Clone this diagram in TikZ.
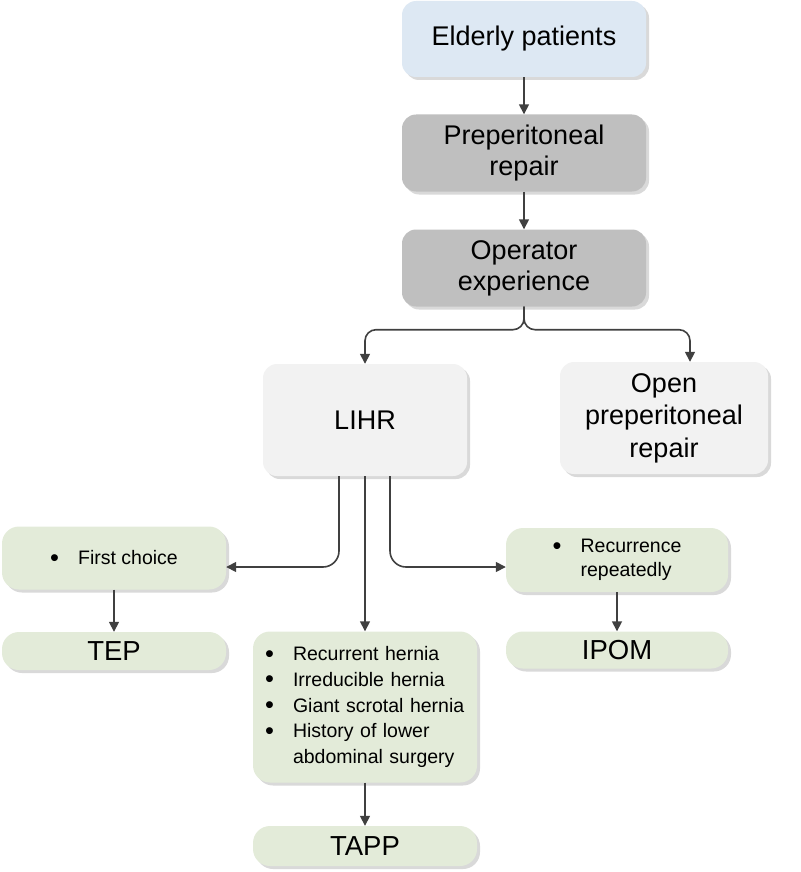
\documentclass[tikz,border=0pt]{standalone}
\usepackage{fontspec}
\setmainfont{Liberation Sans}
\usetikzlibrary{positioning, shapes, calc, arrows.meta, shadows}

\definecolor{bluebox}{HTML}{DDE8F3}
\definecolor{graybox}{HTML}{BFBFBF}
\definecolor{lightbox}{HTML}{F2F2F2}
\definecolor{greenbox}{HTML}{E3EBD9}
\definecolor{linecol}{HTML}{404040}

\newcommand{\bul}{\makebox[28pt][l]{\smash{\raisebox{-1.6pt}{\scalebox{1.3}{\textbullet}}}}}

\tikzset{
	box/.style={rectangle, rounded corners=14pt, draw=none, inner sep=0pt, align=center,
		font=\fontsize{27}{31}\selectfont,
		drop shadow={shadow xshift=3pt, shadow yshift=-3pt, opacity=0.3}},
	listbox/.style={box, fill=greenbox, rounded corners=17pt, font=\fontsize{19.5}{25.7}\selectfont},
	endbox/.style={box, fill=greenbox, rounded corners=17pt, minimum width=224pt, font=\fontsize{27.5}{30}\selectfont},
	arr/.style={draw=linecol, line width=1.6pt, -{Triangle[length=10pt, width=10pt]}}
}

\begin{document}
\begin{tikzpicture}[x=1pt, y=-1pt]
	\useasboundingbox (0,0) rectangle (800,872);
	
	%//top column
	\node [box, fill=bluebox, minimum width=244pt, minimum height=76pt] (elderly) at (524,39) {Elderly patients};
	\node [box, fill=graybox, minimum width=244pt, minimum height=77pt] (prep) at (524,153) {Preperitoneal\\repair};
	\node [box, fill=graybox, minimum width=244pt, minimum height=77pt] (oper) at (524,268) {Operator\\experience};
	
	%//second row
	\node [box, fill=lightbox, minimum width=204pt, minimum height=112pt] (lihr) at (365,420) {LIHR};
	\node [box, fill=lightbox, minimum width=208pt, minimum height=112pt, font=\fontsize{27}{32.5}\selectfont] (open) at (664,418) {Open\\preperitoneal\\repair};
	
	%//indications
	\node [listbox, minimum width=224pt, minimum height=63pt] (first) at (114,558) {\bul First choice};
	\node [listbox, minimum width=222pt, minimum height=64pt, align=left, font=\fontsize{19.5}{24}\selectfont] (recur) at (617,560) {\bul Recurrence\\\hspace*{28pt}repeatedly};
	\node [listbox, text width=200pt, inner xsep=12pt, minimum height=151pt, align=left] (mid) at (365,707)
		{\bul Recurrent hernia\\\bul Irreducible hernia\\\bul Giant scrotal hernia\\\bul History of lower\\\hspace*{28pt}abdominal surgery};
	
	%//techniques
	\node [endbox, minimum height=38pt] (tep) at (114,651) {TEP};
	\node [endbox, minimum width=222pt, minimum height=37pt] (ipom) at (617,650) {IPOM};
	\node [endbox, minimum height=40pt] (tapp) at (365,846) {TAPP};
	
	%//connectors
	\draw [arr] (elderly) -- (prep);
	\draw [arr] (prep) -- (oper);
	\draw [arr, rounded corners=11pt] (oper.south) -- ++(0,23) -| (lihr.north);
	\draw [arr, rounded corners=11pt] (oper.south) -- ++(0,23) -| ([xshift=26pt]open.north);
	
	\draw [arr, rounded corners=16pt] ([xshift=-26pt]lihr.south) |- ([yshift=-9pt]first.east);
	\draw [arr] (lihr.south) -- (mid.north);
	\draw [arr, rounded corners=16pt] ([xshift=25pt]lihr.south) |- ([yshift=-7pt]recur.west);
	
	\draw [arr] (first) -- (tep);
	\draw [arr] (recur) -- (ipom);
	\draw [arr] (mid) -- (tapp);
\end{tikzpicture}
\end{document}
